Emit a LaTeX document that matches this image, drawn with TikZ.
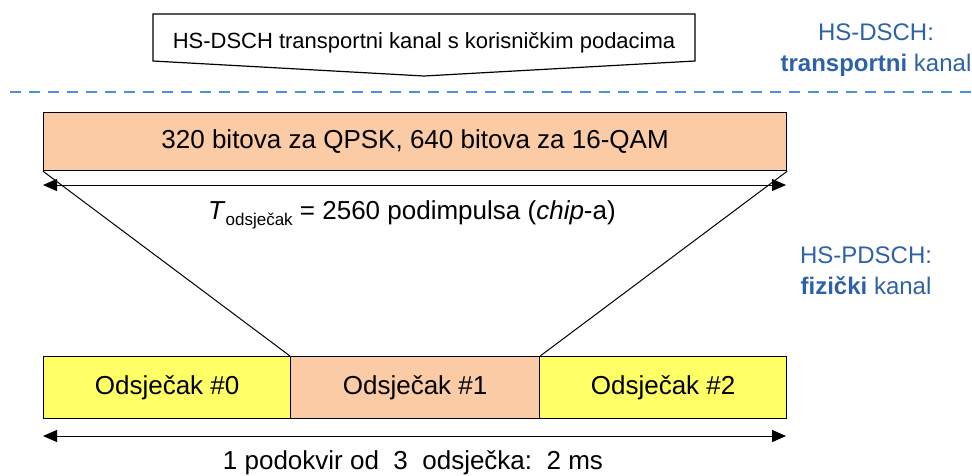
\documentclass[tikz,border=0pt]{standalone}
\usepackage{fontspec}
\setmainfont{Liberation Sans}
\usetikzlibrary{arrows.meta}
\definecolor{peach}{RGB}{250,203,165}
\definecolor{yel}{RGB}{255,255,102}
\definecolor{lblue}{RGB}{46,98,168}
\definecolor{dblue}{RGB}{74,144,226}
\tikzset{
  seg/.style={draw=black, line width=1.2pt, minimum height=62pt, inner sep=0pt, font=\fontsize{26}{26}\selectfont},
  dimarrow/.style={line width=1pt, {Triangle[length=14pt,width=12pt]}-{Triangle[length=14pt,width=12pt]}},
  side/.style={text=lblue, font=\fontsize{24}{31}\selectfont, align=center, inner sep=0pt},
  txt/.style={font=\fontsize{26}{26}\selectfont, inner sep=0pt}
}
\begin{document}
\begin{tikzpicture}[x=1pt,y=-1pt]
\useasboundingbox (0,0) rectangle (972,475);
% callout
\coordinate (c1) at (153,14);
\coordinate (c2) at (695,14);
\coordinate (c3) at (695,61);
\coordinate (c4) at (424,76);
\coordinate (c5) at (153,61);
\draw[line width=1.2pt, line join=miter, fill=white] (c1) -- (c2) -- (c3) -- (c4) -- (c5) -- cycle;
\node[font=\fontsize{22}{22}\selectfont, inner sep=0pt] (ct) at (424,43) {HS-DSCH transportni kanal s korisničkim podacima};
% dashed line
\coordinate (dl) at (10,92);
\coordinate (dr) at (972,92);
\draw[dblue, line width=1.2pt, dash pattern=on 11pt off 8pt] (dl) -- (dr);
% side labels
\node[side] (l1) at (876,50) {HS-DSCH:\\\textbf{transportni} kanal};
\node[side] (l2) at (866,271) {HS-PDSCH:\\\textbf{fizički} kanal};
% top box
\node[seg, fill=peach, minimum width=743pt, minimum height=58pt, anchor=north west] (top) at (43,112) {320 bitova za QPSK, 640 bitova za 16-QAM};
% slot boxes
\node[seg, fill=yel, minimum width=247pt, anchor=north west] (s0) at (43,356) {Odsječak \#0};
\node[seg, fill=peach, minimum width=249pt, anchor=north west] (s1) at (290,356) {Odsječak \#1};
\node[seg, fill=yel, minimum width=247pt, anchor=north west] (s2) at (539,356) {Odsječak \#2};
% expansion lines
\draw[line width=1pt] (top.south west) -- (s1.north west);
\draw[line width=1pt] (top.south east) -- (s1.north east);
% top dimension arrow
\coordinate (a1) at (43,185);
\coordinate (a2) at (786,185);
\draw[dimarrow] (a1) -- (a2);
\node[txt] (tl) at (412,215) {\textit{T}\raisebox{-6pt}{\fontsize{17}{17}\selectfont odsječak} = 2560 podimpulsa (\textit{chip}-a)};
% bottom dimension arrow
\coordinate (b1) at (43,436);
\coordinate (b2) at (786,436);
\draw[dimarrow] (b1) -- (b2);
\node[txt] (bl) at (413,463) {1 podokvir od\ \ 3\ \ odsječka:\ \ 2 ms};
\end{tikzpicture}
\end{document}
